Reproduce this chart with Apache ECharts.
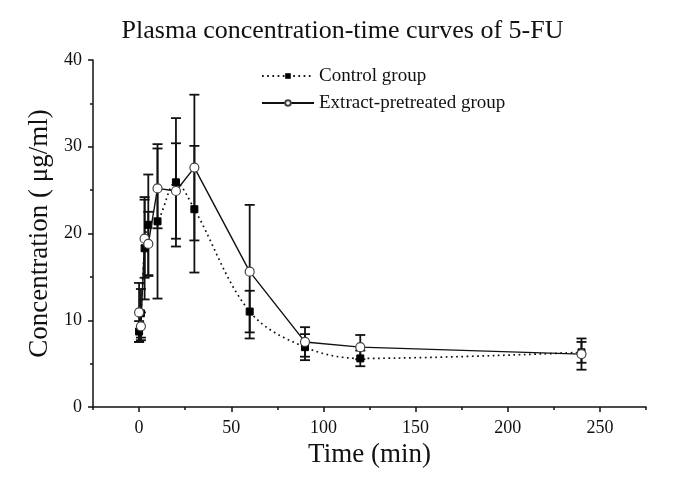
<!DOCTYPE html>
<html>
<head>
<meta charset="utf-8">
<script src="https://cdn.jsdelivr.net/npm/echarts@6/dist/echarts.min.js"></script>
<style>
html,body{margin:0;padding:0;background:#fff;}
#chart{width:685px;height:488px;}
</style>
</head>
<body>
<div id="chart"></div>
<script>
// ---- data ----
var times = [0, 1, 3, 5, 10, 20, 30, 60, 90, 120, 240];
var controlMean = [8.7, 10.8, 18.3, 21.0, 21.4, 25.9, 22.8, 11.0, 6.9, 5.6, 6.3];
var controlSD   = [1.2, 2.8, 5.9, 5.8, 8.9, 7.4, 7.3, 2.4, 1.5, 0.9, 1.2];
var extractMean = [10.9, 9.3, 19.4, 18.8, 25.2, 24.9, 27.6, 15.6, 7.5, 6.9, 6.1];
var extractSD   = [3.4, 1.6, 4.5, 3.7, 4.6, 5.5, 8.4, 7.7, 1.7, 1.4, 1.8];
var xMajorTicks = [0, 50, 100, 150, 200, 250];
var xMinorTicks = [-25, 25, 75, 125, 175, 225, 275];
var seriesNames = ['Control group', 'Extract-pretreated group'];

var FONT = "'Liberation Serif','Times New Roman',serif";
var chart = echarts.init(document.getElementById('chart'), null, {renderer: 'canvas'});

function pairs(m) { return times.map(function (t, i) { return [t, m[i]]; }); }
function bars(m, s) { return times.map(function (t, i) { return [t, m[i] - s[i], m[i] + s[i]]; }); }

function errRender(params, api) {
  var x = api.value(0), lo = api.value(1), hi = api.value(2);
  var a = api.coord([x, lo]), b = api.coord([x, hi]);
  var w = 5;
  var st = {stroke: '#111', lineWidth: 1.8};
  return {
    type: 'group',
    children: [
      {type: 'line', shape: {x1: a[0], y1: a[1], x2: b[0], y2: b[1]}, style: st},
      {type: 'line', shape: {x1: a[0] - w, y1: a[1], x2: a[0] + w, y2: a[1]}, style: st},
      {type: 'line', shape: {x1: b[0] - w, y1: b[1], x2: b[0] + w, y2: b[1]}, style: st}
    ]
  };
}

var option = {
  backgroundColor: '#fff',
  animation: false,
  title: {
    text: 'Plasma concentration-time curves of 5-FU',
    left: 'center',
    top: 13,
    textStyle: {fontFamily: FONT, fontSize: 26, fontWeight: 'normal', color: '#111'}
  },
  legend: {
    data: seriesNames,
    orient: 'vertical',
    left: 256,
    top: 61,
    itemWidth: 52,
    itemHeight: 7,
    itemGap: 7,
    textStyle: {fontFamily: FONT, fontSize: 19, color: '#111', lineHeight: 20}
  },
  grid: {left: 93, right: 39, top: 60, bottom: 81, containLabel: false},
  xAxis: [{
    type: 'value',
    min: -25, max: 275,
    name: 'Time (min)',
    nameLocation: 'middle',
    nameGap: 33,
    nameTextStyle: {fontFamily: FONT, fontSize: 27, color: '#111'},
    axisLine: {show: true, onZero: false, lineStyle: {color: '#111', width: 1.5}},
    axisTick: {show: true, inside: false, length: 5, lineStyle: {color: '#111', width: 1.5}, customValues: xMajorTicks},
    axisLabel: {fontFamily: FONT, fontSize: 18, color: '#111', margin: 12, customValues: xMajorTicks},
    splitLine: {show: false}
  }, {
    type: 'value',
    min: -25, max: 275,
    position: 'bottom',
    axisLine: {show: false},
    axisTick: {show: true, inside: false, length: 3, lineStyle: {color: '#111', width: 1.5}, customValues: xMinorTicks},
    axisLabel: {show: false, customValues: xMinorTicks},
    splitLine: {show: false}
  }],
  yAxis: {
    type: 'value',
    min: 0, max: 40, interval: 10,
    name: 'Concentration ( \u03bcg/ml)',
    nameLocation: 'middle',
    nameRotate: 90,
    nameGap: 40,
    nameTextStyle: {fontFamily: FONT, fontSize: 27, color: '#111'},
    axisLine: {show: true, onZero: false, lineStyle: {color: '#111', width: 1.5}},
    axisTick: {show: true, inside: false, length: 5, lineStyle: {color: '#111', width: 1.5}},
    minorTick: {show: true, splitNumber: 2, length: 3, lineStyle: {color: '#111', width: 1.5}},
    axisLabel: {fontFamily: FONT, fontSize: 18, color: '#111', margin: 11},
    splitLine: {show: false},
    minorSplitLine: {show: false}
  },
  series: [
    {
      name: 'ctrlErr', type: 'custom', xAxisIndex: 0, yAxisIndex: 0,
      renderItem: errRender, data: bars(controlMean, controlSD), z: 1, silent: true
    },
    {
      name: 'extErr', type: 'custom', xAxisIndex: 0, yAxisIndex: 0,
      renderItem: errRender, data: bars(extractMean, extractSD), z: 1, silent: true
    },
    {
      name: seriesNames[0], type: 'line', xAxisIndex: 0,
      data: pairs(controlMean),
      smooth: 0.35,
      symbol: 'rect', symbolSize: 7,
      itemStyle: {color: '#000', borderColor: '#000'},
      lineStyle: {color: '#111', width: 1.7, type: [1.7, 3.5]},
      z: 3
    },
    {
      name: seriesNames[1], type: 'line', xAxisIndex: 0,
      data: pairs(extractMean),
      symbol: 'circle', symbolSize: 9,
      itemStyle: {color: '#fff', borderColor: '#444', borderWidth: 1.2},
      lineStyle: {color: '#111', width: 1.4, type: 'solid'},
      z: 4
    }
  ]
};
chart.setOption(option);
</script>
</body>
</html>
